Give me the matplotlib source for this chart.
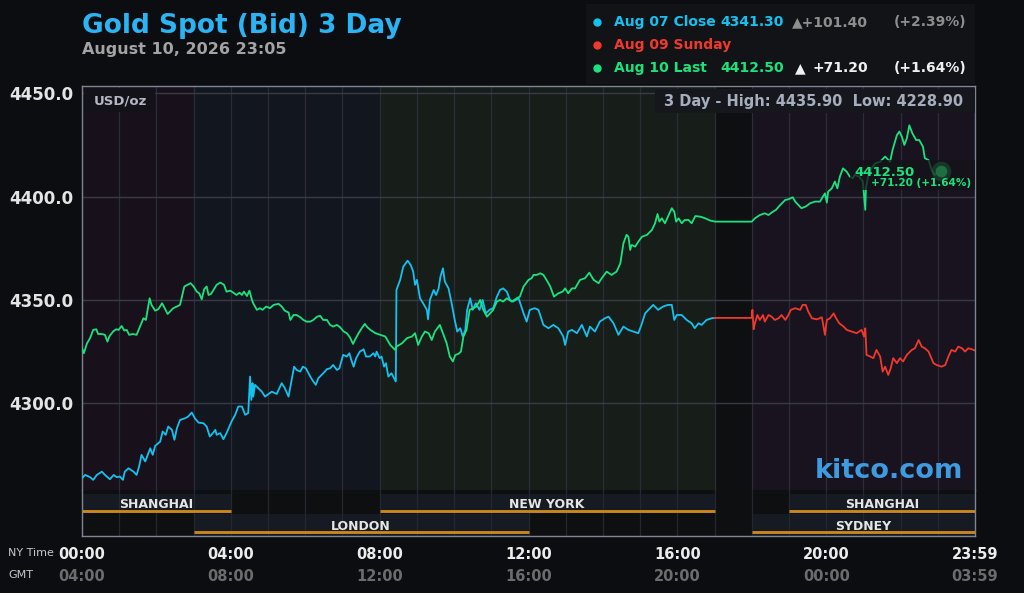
import matplotlib.pyplot as plt
from matplotlib.patches import Rectangle
from matplotlib.lines import Line2D

# time = minutes after 00:00 New York time, price = USD/oz
aug07_min = [0, 5, 13, 18, 24, 32, 37, 45, 51, 56, 61, 66, 69, 75, 83, 88, 92, 96, 102, 107,
             110, 114, 118, 126, 130, 135, 139, 145, 149, 153, 158, 166, 171, 177, 182, 188, 196, 201, 206, 211,
             215, 217, 223, 228, 233, 241, 247, 252, 258, 263, 268, 271, 273, 275, 276, 279, 284, 290, 295, 301,
             306, 314, 322, 327, 333, 338, 342, 346, 352, 356, 361, 368, 373, 377, 381, 389, 395, 400, 405, 411,
             415, 421, 427, 431, 435, 438, 442, 448, 454, 458, 464, 470, 473, 475, 480, 483, 487, 490, 494, 499,
             506, 507, 513, 518, 525, 530, 534, 537, 540, 545, 550, 556, 558, 561, 567, 571, 575, 578, 582, 585,
             591, 596, 601, 605, 610, 614, 618, 621, 626, 630, 635, 641, 646, 651, 657, 663, 669, 674, 679, 685,
             690, 695, 704, 712, 717, 722, 730, 736, 744, 752, 760, 768, 776, 779, 784, 790, 798, 806, 814, 819,
             827, 835, 843, 849, 857, 865, 873, 881, 889, 897, 902, 908, 916, 921, 929, 937, 945, 951, 955, 959,
             967, 975, 983, 988, 994, 999, 1007, 1015, 1020]
aug07_price = [4263.7, 4265.3, 4264.2, 4262.9, 4265.3, 4266.9, 4265.3, 4263.2, 4265.3, 4264.2,
               4264.5, 4262.9, 4266.9, 4268.5, 4266.9, 4265.3, 4269.3, 4275.0, 4271.8, 4275.8,
               4278.2, 4275.0, 4279.4, 4281.4, 4286.3, 4284.7, 4288.7, 4287.1, 4282.3, 4287.9,
               4291.9, 4292.7, 4293.5, 4295.5, 4292.7, 4290.6, 4290.3, 4288.7, 4283.9, 4285.5,
               4287.1, 4284.7, 4285.5, 4282.6, 4285.5, 4291.1, 4294.4, 4298.4, 4298.4, 4294.4,
               4295.2, 4312.9, 4301.6, 4309.7, 4303.2, 4308.9, 4307.3, 4305.6, 4303.2, 4304.5,
               4305.6, 4304.5, 4309.7, 4307.3, 4303.2, 4311.3, 4317.7, 4316.1, 4315.3, 4317.7,
               4316.9, 4312.9, 4310.5, 4308.9, 4312.1, 4314.5, 4316.5, 4316.9, 4318.5, 4316.1,
               4316.9, 4323.4, 4322.6, 4324.2, 4320.2, 4317.7, 4321.8, 4325.0, 4326.1, 4322.6,
               4322.6, 4324.2, 4322.6, 4325.0, 4321.8, 4322.6, 4317.7, 4319.4, 4312.9, 4314.5,
               4310.5, 4354.8, 4359.7, 4366.1, 4369.0, 4366.9, 4363.7, 4357.3, 4359.7, 4350.8,
               4348.4, 4345.2, 4340.6, 4350.0, 4354.8, 4352.4, 4355.6, 4361.3, 4365.3, 4358.9,
               4355.6, 4348.4, 4340.3, 4334.7, 4336.3, 4332.3, 4335.5, 4345.2, 4350.8, 4345.2,
               4348.4, 4345.2, 4350.0, 4343.5, 4345.2, 4346.0, 4351.6, 4354.8, 4355.6, 4354.0,
               4350.0, 4349.2, 4350.8, 4343.5, 4339.5, 4345.2, 4346.0, 4345.2, 4337.9, 4336.3,
               4337.9, 4336.3, 4332.3, 4328.2, 4334.7, 4335.5, 4333.9, 4337.9, 4332.3, 4337.1,
               4334.7, 4339.5, 4341.1, 4341.9, 4338.7, 4333.1, 4337.1, 4335.5, 4334.7, 4333.9,
               4337.9, 4343.5, 4346.0, 4347.6, 4345.2, 4346.8, 4347.6, 4347.6, 4340.3, 4342.7,
               4342.7, 4340.3, 4338.7, 4336.3, 4338.7, 4337.9, 4340.3, 4341.1, 4341.3]

aug09_min = [1020, 1080, 1081, 1083, 1085, 1089, 1093, 1098, 1101, 1107,
             1112, 1117, 1123, 1128, 1134, 1139, 1143, 1150, 1158, 1162,
             1167, 1171, 1177, 1185, 1193, 1198, 1201, 1206, 1212, 1216,
             1221, 1228, 1233, 1241, 1249, 1257, 1261, 1263, 1265, 1271,
             1276, 1281, 1287, 1291, 1295, 1300, 1304, 1308, 1314, 1319,
             1324, 1330, 1338, 1343, 1349, 1354, 1359, 1365, 1373, 1378,
             1386, 1392, 1397, 1402, 1408, 1413, 1419, 1424, 1429, 1435, 1440]
aug09_price = [4341.3, 4341.3, 4345.2, 4335.8, 4338.7, 4342.7, 4340.3, 4342.7, 4339.5, 4342.7,
               4341.9, 4340.3, 4341.1, 4342.7, 4340.3, 4342.7, 4345.2, 4346.0, 4345.2, 4347.6,
               4347.6, 4344.4, 4341.1, 4340.6, 4341.6, 4333.1, 4340.3, 4341.1, 4343.5, 4341.1,
               4338.7, 4337.1, 4335.5, 4334.7, 4333.9, 4335.5, 4332.3, 4336.3, 4323.4, 4322.6,
               4321.8, 4325.8, 4322.6, 4315.3, 4317.7, 4313.7, 4316.9, 4321.8, 4319.4, 4321.8,
               4320.2, 4323.4, 4325.8, 4326.6, 4330.6, 4327.4, 4326.6, 4325.0, 4319.4, 4318.5,
               4317.7, 4318.5, 4322.6, 4325.8, 4325.0, 4327.4, 4326.6, 4325.0, 4326.6, 4326.1, 4325.5]

aug10_min = [0, 3, 8, 13, 18, 23, 26, 32, 37, 41, 44, 50, 55, 59, 64, 68, 72, 76, 82, 88,
             94, 99, 103, 109, 112, 118, 123, 129, 132, 138, 142, 147, 153, 158, 165, 170, 175, 180, 185, 189,
             193, 197, 201, 204, 208, 212, 217, 223, 229, 233, 239, 244, 249, 254, 258, 261, 266, 270, 274, 276,
             282, 287, 291, 297, 303, 309, 317, 322, 327, 333, 336, 341, 346, 352, 357, 362, 368, 373, 379, 384,
             389, 395, 400, 405, 411, 416, 422, 427, 432, 437, 440, 446, 451, 456, 460, 465,
             473, 481, 489, 497, 505, 507, 516, 524, 532, 537, 542, 548, 553, 559, 564, 569, 577, 583, 588, 593,
             598, 602, 607, 611, 615, 620, 625, 631, 636, 642, 647, 653, 658, 663, 669, 674, 679, 685, 693, 701,
             706, 712, 720, 725, 728, 733, 739, 744, 749, 755, 761, 768, 775, 779, 784, 790, 795, 803, 811, 818,
             825, 833, 838, 846, 854, 862, 868, 873, 878, 881, 884, 886, 892, 897, 903, 911, 919, 924, 928, 931,
             935, 940, 946, 951, 955, 958, 962, 967, 972, 978, 983, 989, 997, 1005, 1013, 1021, 1080,
             1085, 1093, 1101, 1107, 1112, 1119, 1126, 1134, 1139, 1146, 1150, 1155, 1160, 1167, 1174, 1182,
             1190, 1194, 1198, 1201, 1203, 1209, 1214, 1218, 1222, 1227, 1233, 1238, 1243, 1246, 1253, 1259,
             1263, 1264, 1268, 1273, 1279, 1287, 1295, 1303, 1307, 1314, 1318, 1322, 1326, 1330, 1334, 1339,
             1345, 1350, 1356, 1359, 1365, 1370, 1375, 1385]
aug10_price = [4326.6, 4324.2, 4329.0, 4331.5, 4335.5, 4335.8, 4333.5, 4333.5, 4333.1, 4329.8,
               4332.3, 4334.7, 4335.8, 4335.5, 4337.4, 4335.2, 4335.5, 4333.1, 4333.5, 4333.1,
               4337.4, 4341.1, 4340.3, 4350.8, 4347.6, 4344.8, 4345.5, 4348.4, 4346.8, 4343.2,
               4344.4, 4346.0, 4346.8, 4347.6, 4356.5, 4357.3, 4358.1, 4356.5, 4354.0, 4353.2,
               4350.3, 4355.2, 4356.5, 4352.4, 4352.9, 4354.8, 4357.3, 4358.4, 4357.3, 4354.0,
               4354.5, 4353.5, 4352.4, 4353.5, 4352.4, 4354.0, 4351.9, 4354.5, 4350.0, 4348.4,
               4345.2, 4346.0, 4345.2, 4346.8, 4346.0, 4347.6, 4348.1, 4346.8, 4344.8, 4343.9,
               4340.3, 4342.7, 4342.7, 4341.6, 4340.3, 4339.5, 4339.5, 4340.3, 4341.9, 4342.3,
               4340.3, 4340.3, 4337.9, 4337.1, 4337.9, 4336.8, 4334.7, 4333.9, 4331.9, 4328.7,
               4330.6, 4333.9, 4336.3, 4338.4, 4336.8, 4335.5,
               4333.9, 4333.1, 4332.3, 4328.2, 4325.8, 4327.4, 4329.0, 4331.5, 4332.3, 4333.9,
               4328.2, 4332.3, 4334.7, 4333.9, 4330.6, 4334.7, 4337.9, 4333.1, 4329.0, 4322.6,
               4320.2, 4323.4, 4323.9, 4325.0, 4332.3, 4335.5, 4345.2, 4346.0, 4346.8, 4350.0,
               4345.2, 4341.9, 4343.5, 4345.2, 4349.2, 4350.0, 4349.2, 4350.8, 4349.2, 4350.8,
               4351.6, 4356.5, 4359.7, 4360.5, 4362.1, 4362.1, 4362.9, 4362.1, 4359.7, 4356.5,
               4351.6, 4353.2, 4354.0, 4355.6, 4353.2, 4355.6, 4355.6, 4359.7, 4360.5, 4363.2,
               4359.7, 4358.1, 4360.5, 4363.7, 4362.1, 4363.7, 4367.7, 4377.4, 4381.5, 4380.6,
               4374.2, 4376.6, 4375.8, 4378.2, 4380.6, 4381.5, 4383.9, 4387.1, 4391.6, 4387.9,
               4389.5, 4387.1, 4391.1, 4394.4, 4392.7, 4387.9, 4389.5, 4387.1, 4388.7, 4388.7,
               4387.1, 4390.6, 4390.3, 4389.5, 4388.4, 4387.9, 4387.9,
               4389.5, 4391.1, 4391.9, 4391.1, 4392.3, 4393.6, 4396.0, 4398.4, 4398.7, 4399.7,
               4397.6, 4396.0, 4394.4, 4395.2, 4396.8, 4397.6, 4397.6, 4399.7, 4401.6, 4397.1,
               4402.4, 4404.0, 4407.3, 4404.0, 4409.7, 4413.7, 4412.1, 4409.7, 4408.9, 4410.5,
               4409.7, 4407.3, 4393.6, 4404.0, 4410.5, 4413.7, 4416.1, 4416.9, 4419.4, 4416.9,
               4422.6, 4429.8, 4431.5, 4429.0, 4425.0, 4428.2, 4434.5, 4430.6, 4427.4, 4427.4,
               4424.2, 4418.6, 4417.7, 4412.9, 4410.5, 4412.5]

price_ticks = [4300, 4350, 4400, 4450]
hour_ticks = [0, 4, 8, 12, 16, 20, 24]
ny_labels = ["00:00", "04:00", "08:00", "12:00", "16:00", "20:00", "23:59"]
gmt_labels = ["04:00", "08:00", "12:00", "16:00", "20:00", "00:00", "03:59"]

# background zones (start hour, end hour)
zone_hours = [(0, 3), (3, 8), (8, 17), (17, 18), (18, 24)]
zone_colors = ["#18111b", "#12161e", "#171e19", "#0e0f11", "#191320"]

sessions_top = [("SHANGHAI", 0, 4), ("NEW YORK", 8, 17), ("SHANGHAI", 19, 24)]
sessions_bottom = [("LONDON", 3, 12), ("SYDNEY", 18, 24)]

prev_close = 4341.30
prev_change, prev_pct = 101.40, 2.39
last_price = 4412.50
last_change, last_pct = 71.20, 1.64
high_3d, low_3d = 4435.90, 4228.90

BG = "#0c0d10"
CYAN = "#14c1ef"
RED = "#f0392c"
GREEN = "#1ae37d"
ORANGE = "#c8861c"
BORDER = "#7e8696"


def main():
    fig = plt.figure(figsize=(10.24, 5.93), dpi=100, facecolor=BG)
    ax = fig.add_axes([0.0801, 0.1737, 0.8721, 0.6818])
    axs = fig.add_axes([0.0801, 0.0961, 0.8721, 0.0776])

    # price panel
    ax.set_facecolor(BG)
    ax.set_xlim(0, 1440)
    ax.set_ylim(4258.0, 4453.7)
    for (h0, h1), c in zip(zone_hours, zone_colors):
        ax.axvspan(h0 * 60, h1 * 60, color=c, lw=0, zorder=0)
    for h in range(1, 24):
        ax.axvline(h * 60, color="#2a2d37", lw=0.9, zorder=1)
    for p in price_ticks:
        ax.axhline(p, color="#383b46", lw=1.0, zorder=1)

    ax.plot(aug07_min, aug07_price, color=CYAN, lw=1.3, zorder=3)
    ax.plot(aug09_min, aug09_price, color=RED, lw=1.3, zorder=3)
    ax.plot(aug10_min, aug10_price, color=GREEN, lw=1.3, zorder=4)

    ax.set_yticks(price_ticks)
    ax.set_yticklabels([f"{p:.1f}" for p in price_ticks], fontsize=12,
                       fontweight="bold", color="#e4e4e4")
    ax.tick_params(axis="y", length=0, pad=6.5)
    ax.set_xticks([])
    for s in ["top", "left", "right"]:
        ax.spines[s].set_color(BORDER)
        ax.spines[s].set_linewidth(1)
    ax.spines["bottom"].set_visible(False)

    # header boxes inside the chart
    ax.add_patch(Rectangle((0.002, 0.935), 0.08, 0.059, transform=ax.transAxes,
                           color="#141219", lw=0, zorder=5))
    ax.text(0.013, 0.962, "USD/oz", transform=ax.transAxes, fontsize=9.5,
            fontweight="bold", color="#b4b8c4", va="center", zorder=6)
    ax.add_patch(Rectangle((0.642, 0.933), 0.358, 0.059, transform=ax.transAxes,
                           color="#15171c", lw=0, zorder=5))
    ax.text(0.9866, 0.962, f"3 Day - High: {high_3d:.2f}  Low: {low_3d:.2f}",
            transform=ax.transAxes, fontsize=10.5, fontweight="bold",
            color="#a6adbc", va="center", ha="right", zorder=6)

    # last price tag
    ax.add_patch(Rectangle((0.860, 0.742), 0.14, 0.074, transform=ax.transAxes,
                           color="#141219", alpha=0.75, lw=0, zorder=5))
    ax.scatter([aug10_min[-1]], [aug10_price[-1]], s=200, color="#1c8a4c",
               alpha=0.3, lw=0, zorder=6)
    ax.scatter([aug10_min[-1]], [aug10_price[-1]], s=70, color="#1f6e42",
               lw=0, zorder=7)
    ax.text(0.8645, 0.7865, f"{last_price:.2f}", transform=ax.transAxes,
            fontsize=9.5, fontweight="bold", color=GREEN, va="center", zorder=8)
    ax.text(0.8835, 0.759, f"+{last_change:.2f} (+{last_pct:.2f}%)",
            transform=ax.transAxes, fontsize=7.5, fontweight="bold",
            color=GREEN, va="center", zorder=8)

    ax.text(0.9866, 0.03, "kitco.com", transform=ax.transAxes, fontsize=19.5,
            fontweight="bold", color="#3f9be0", ha="right", va="baseline", zorder=2)

    # session panel
    axs.set_facecolor("#0e0f11")
    axs.set_xlim(0, 1440)
    axs.set_ylim(46, 0)
    for name, h0, h1 in sessions_top:
        axs.add_patch(Rectangle((h0 * 60, 4), (h1 - h0) * 60, 19, color="#161a22", lw=0, zorder=0))
        axs.plot([h0 * 60, h1 * 60], [21, 21], color=ORANGE, lw=2.1, zorder=3,
                 solid_capstyle="butt")
        axs.text((h0 + h1) * 30, 14.5, name, fontsize=9, fontweight="bold",
                 color="#e6e6e6", ha="center", va="center", zorder=4)
    for name, h0, h1 in sessions_bottom:
        axs.add_patch(Rectangle((h0 * 60, 24), (h1 - h0) * 60, 22, color="#161a22", lw=0, zorder=0))
        axs.plot([h0 * 60, h1 * 60], [42, 42], color=ORANGE, lw=2.1, zorder=3,
                 solid_capstyle="butt")
        axs.text((h0 + h1) * 30, 36, name, fontsize=9, fontweight="bold",
                 color="#e6e6e6", ha="center", va="center", zorder=4)
    for h in range(1, 24):
        axs.axvline(h * 60, color="#24272f", lw=0.9, zorder=1)
    axs.set_xticks([])
    axs.set_yticks([])
    for s in ["bottom", "left", "right"]:
        axs.spines[s].set_color(BORDER)
        axs.spines[s].set_linewidth(1)
    axs.spines["top"].set_visible(False)

    # time axis labels
    tr = axs.get_xaxis_transform()
    for h, ny, gmt in zip(hour_ticks, ny_labels, gmt_labels):
        axs.text(h * 60, -0.41, ny, transform=tr, fontsize=10.5, fontweight="bold",
                 color="#ececec", ha="center", va="center", clip_on=False)
        axs.text(h * 60, -0.89, gmt, transform=tr, fontsize=10.5, fontweight="bold",
                 color="#6c6c6c", ha="center", va="center", clip_on=False)
    fig.text(0.0078, 0.0675, "NY Time", fontsize=8, color="#c8c8c8", va="center")
    fig.text(0.0078, 0.030, "GMT", fontsize=8, color="#c8c8c8", va="center")

    # title
    fig.text(0.0801, 0.9438, "Gold Spot (Bid) 3 Day", fontsize=19, fontweight="bold",
             color="#2ab4f3", va="baseline")
    fig.text(0.0801, 0.9089, "August 10, 2026 23:05", fontsize=11.5, fontweight="bold",
             color="#a3a3a3", va="baseline")

    # legend box
    fig.add_artist(Rectangle((0.5723, 0.8583), 0.3798, 0.135, transform=fig.transFigure,
                             color="#121317", lw=0, zorder=0))
    rows = [0.9629, 0.9241, 0.8853]
    for y, c in zip(rows, [CYAN, RED, GREEN]):
        fig.add_artist(Line2D([0.583], [y], marker="o", markersize=5, color=c,
                              transform=fig.transFigure))
    kw = dict(fontsize=10, fontweight="bold", va="center")
    fig.text(0.5996, rows[0], "Aug 07 Close", color=CYAN, **kw)
    fig.text(0.7656, rows[0], f"{prev_close:.2f}", color=CYAN, ha="right", **kw)
    fig.text(0.8477, rows[0], f"\u25b2+{prev_change:.2f}", color="#8e8e8e", ha="right", **kw)
    fig.text(0.9434, rows[0], f"(+{prev_pct:.2f}%)", color="#8e8e8e", ha="right", **kw)
    fig.text(0.5996, rows[1], "Aug 09 Sunday", color=RED, **kw)
    fig.text(0.5996, rows[2], "Aug 10 Last", color=GREEN, **kw)
    fig.text(0.7656, rows[2], f"{last_price:.2f}", color=GREEN, ha="right", **kw)
    fig.text(0.7815, rows[2], "\u25b2", color="#f0f0f0", ha="center", **kw)
    fig.text(0.8477, rows[2], f"+{last_change:.2f}", color="#f0f0f0", ha="right", **kw)
    fig.text(0.9434, rows[2], f"(+{last_pct:.2f}%)", color="#f0f0f0", ha="right", **kw)

    fig.savefig("out.png", dpi=100, facecolor=BG)
    plt.close(fig)


if __name__ == "__main__":
    main()
